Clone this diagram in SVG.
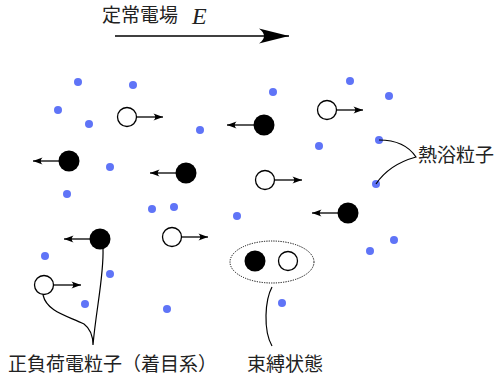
<svg xmlns="http://www.w3.org/2000/svg" width="499" height="380" viewBox="0 0 499 380">
  <style>
    .label { font-family: "Noto Sans CJK JP", "Noto Sans", sans-serif; font-size: 19px; fill: #222; }
    .bath { fill: #5f74f7; }
    .neg { fill: #000; }
    .pos { fill: #fff; stroke: #000; stroke-width: 1.3; }
    .vel { stroke: #000; stroke-width: 1.3; fill: none; marker-end: url(#head); }
    .lead { stroke: #000; stroke-width: 1.2; fill: none; }
  </style>
  <defs>
    <marker id="head" markerUnits="userSpaceOnUse" viewBox="-10 -5 11 10" refX="0" refY="0" markerWidth="11" markerHeight="10" orient="auto">
      <path d="M0,0 L-9.5,-3.6 Q-6,0 -9.5,3.6 Z" fill="#000"/>
    </marker>
    <marker id="bighead" markerUnits="userSpaceOnUse" viewBox="-32 -9 33 18" refX="0" refY="0" markerWidth="33" markerHeight="18" orient="auto">
      <path d="M0,0 L-30,-7.5 Q-20,0 -30,7.5 Z" fill="#000"/>
    </marker>
  </defs>

  <!-- field label and direction -->
  <g id="field">
    <text class="label" x="102" y="22">定常電場</text>
    <text x="192" y="24" font-family="Liberation Serif, serif" font-style="italic" font-size="24" fill="#222">E</text>
    <line x1="115" y1="36" x2="289" y2="36" stroke="#000" stroke-width="1.6" marker-end="url(#bighead)"/>
  </g>

  <!-- heat bath particles -->
  <g id="bath">
    <circle class="bath" cx="78" cy="82" r="4"/>
    <circle class="bath" cx="133" cy="85" r="4"/>
    <circle class="bath" cx="58" cy="110" r="4"/>
    <circle class="bath" cx="89" cy="124" r="4"/>
    <circle class="bath" cx="200" cy="130" r="4"/>
    <circle class="bath" cx="110" cy="167" r="4"/>
    <circle class="bath" cx="67" cy="194" r="4"/>
    <circle class="bath" cx="152" cy="209" r="4"/>
    <circle class="bath" cx="174" cy="207" r="4"/>
    <circle class="bath" cx="273" cy="92" r="4"/>
    <circle class="bath" cx="350" cy="81" r="4"/>
    <circle class="bath" cx="389" cy="96" r="4"/>
    <circle class="bath" cx="319" cy="146" r="4"/>
    <circle class="bath" cx="379" cy="140" r="4"/>
    <circle class="bath" cx="376" cy="184" r="4"/>
    <circle class="bath" cx="237" cy="216" r="4"/>
    <circle class="bath" cx="45" cy="256" r="4"/>
    <circle class="bath" cx="110" cy="274" r="4"/>
    <circle class="bath" cx="85" cy="304" r="4"/>
    <circle class="bath" cx="167" cy="309" r="4"/>
    <circle class="bath" cx="394" cy="240" r="4"/>
    <circle class="bath" cx="370" cy="251" r="4"/>
    <circle class="bath" cx="282" cy="303" r="4"/>
  </g>

  <!-- charged particles -->
  <g id="p1"><circle class="pos" cx="127" cy="117" r="9.5"/></g>
  <g id="p2"><circle class="neg" cx="264" cy="125" r="10.5"/></g>
  <g id="p3"><circle class="pos" cx="327" cy="110" r="9.5"/></g>
  <g id="p4"><circle class="neg" cx="69" cy="161" r="10.5"/></g>
  <g id="p5"><circle class="neg" cx="186" cy="173" r="10.5"/></g>
  <g id="p6"><circle class="pos" cx="265" cy="180" r="9.5"/></g>
  <g id="p7"><circle class="neg" cx="348" cy="213" r="10.5"/></g>
  <g id="p8"><circle class="neg" cx="100" cy="239" r="10.5"/></g>
  <g id="p9"><circle class="pos" cx="172" cy="237" r="9.5"/></g>
  <g id="p10"><circle class="pos" cx="44" cy="285" r="9.5"/></g>

  <!-- bound pair -->
  <g id="bound">
    <ellipse cx="272" cy="262" rx="42" ry="21" fill="none" stroke="#000" stroke-width="1" stroke-dasharray="1.2 1.2"/>
    <circle class="neg" cx="255" cy="261" r="10.5"/>
    <circle class="pos" cx="288" cy="261" r="9.5"/>
  </g>

  <!-- velocity arrows and leader lines -->
  <g id="connectors">
    <line class="vel" x1="137" y1="117" x2="163" y2="117"/>
    <line class="vel" x1="254" y1="125" x2="227" y2="125"/>
    <line class="vel" x1="337" y1="110" x2="363" y2="110"/>
    <line class="vel" x1="59" y1="161" x2="33" y2="161"/>
    <line class="vel" x1="176" y1="173" x2="150" y2="173"/>
    <line class="vel" x1="275" y1="180" x2="302" y2="180"/>
    <line class="vel" x1="338" y1="213" x2="312" y2="213"/>
    <line class="vel" x1="90" y1="239" x2="64" y2="239"/>
    <line class="vel" x1="182" y1="237" x2="208" y2="237"/>
    <line class="vel" x1="54" y1="285" x2="81" y2="285"/>

    <path class="lead" d="M379,140 C400,140 410,148 416,157 C398,162 384,172 376,184"/>
    <path class="lead" d="M43,295 C47,312 68,316 84,324 C92,330 93,338 93,345 C96,310 104,275 103,249"/>
    <path class="lead" d="M272,287 C265,300 263,330 272,346"/>
  </g>

  <!-- captions -->
  <g id="captions">
    <text class="label" x="418" y="162">熱浴粒子</text>
    <text class="label" x="8" y="371">正負荷電粒子（着目系）</text>
    <text class="label" x="247" y="371">束縛状態</text>
  </g>
</svg>
